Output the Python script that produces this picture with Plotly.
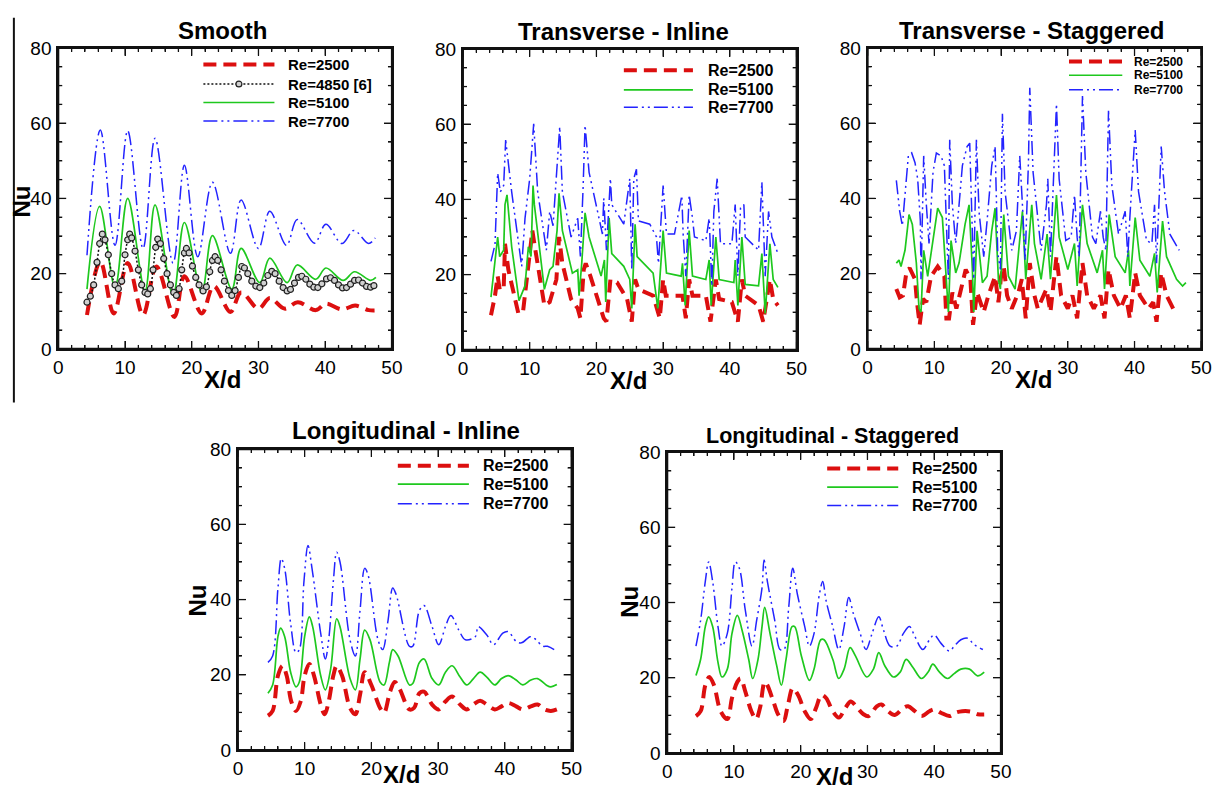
import plotly.graph_objects as go

W, H = 1231, 799

# ---------------- data ----------------
panel_titles = ["Smooth", "Transverse - Inline", "Transverse - Staggered",
                "Longitudinal - Inline", "Longitudinal - Staggered"]
x_range = [0, 50]
y_range = [0, 80]
x_major = [0, 10, 20, 30, 40, 50]
y_major = [0, 20, 40, 60, 80]
x_minor = [v for v in range(0, 51, 2) if v % 10]
y_minor = [v for v in range(0, 81, 5) if v % 20]

# Smooth
smooth_x_2500 = [4.3, 6.3, 8.3, 10.4, 12.7, 14.7, 17.4, 18.9, 21.5, 23.3, 25.8, 27.4, 30.0, 31.7, 33.9, 35.9, 38.6, 40.1, 42.5, 44.5, 46.5, 47.4]
smooth_nu_2500 = [9.0, 23.2, 9.4, 22.8, 9.0, 21.9, 8.5, 19.3, 9.4, 16.7, 9.8, 15.0, 10.7, 13.5, 10.7, 12.4, 10.3, 12.0, 10.5, 11.5, 10.3, 10.2]
smooth_x_4850 = [4.3, 4.8, 5.3, 5.8, 6.2, 6.6, 7.0, 7.5, 8.0, 8.5, 9.0, 9.5, 10.0, 10.4, 10.7, 11.0, 11.5, 12.0, 12.5, 13.0,
                 13.4, 13.8, 14.2, 14.6, 14.9, 15.3, 15.8, 16.3, 16.8, 17.3, 17.7, 18.1, 18.5, 18.9, 19.2, 19.6, 20.1, 20.6, 21.1, 21.7,
                 22.2, 22.7, 23.1, 23.5, 23.9, 24.4, 24.9, 25.5, 26.0, 26.5, 27.0, 27.5, 27.9, 28.4, 29.0, 29.6, 30.2, 30.8, 31.4, 32.0,
                 32.5, 33.1, 33.7, 34.3, 34.8, 35.4, 36.0, 36.5, 37.1, 37.7, 38.3, 38.9, 39.5, 40.2, 40.8, 41.4, 42.0, 42.6, 43.2, 43.8,
                 44.4, 45.0, 45.6, 46.2, 46.8, 47.3]
smooth_nu_4850 = [12.4, 14, 17, 23, 28, 30.5, 29, 25, 20, 17, 16, 18, 25, 29, 30.5, 29.5, 26, 21, 17, 15,
                  14.6, 16, 21, 27, 29.2, 28, 24, 20, 17, 15, 14.2, 16, 21, 25.5, 26.7, 25.5, 22, 19, 17, 15.4,
                  16.5, 20.5, 23.5, 24.5, 23.5, 21, 18, 15.5, 14.2, 15.5, 19, 21.9, 21.5, 20, 18, 16.7, 16.3, 17.5, 19.5, 20.6,
                  20, 18, 16.3, 15.4, 15.8, 17.5, 19, 19.3, 18.5, 17.2, 16.4, 16.3, 17.3, 18.6, 18.9, 18.2, 17, 16.2, 16.3, 17.2,
                  18.2, 18.3, 17.5, 16.6, 16.4, 16.8]
smooth_x_5100 = [4.3, 6.2, 8.5, 10.4, 13.0, 14.5, 17.2, 18.9, 21.5, 23.1, 26.0, 27.4, 30.2, 31.7, 34.3, 35.8, 38.6, 40.1, 42.7, 44.4, 46.8, 47.6]
smooth_nu_5100 = [15.9, 37.9, 16.3, 40.0, 15.4, 38.3, 14.2, 33.6, 15.0, 30.1, 15.9, 26.7, 17.6, 24.1, 17.6, 22.3, 18.5, 21.5, 18.2, 20.5, 18.2, 19.0]
smooth_x_7700 = [4.3, 6.3, 8.5, 10.4, 12.7, 14.5, 17.2, 18.9, 20.9, 23.1, 25.8, 27.4, 30.0, 31.7, 34.2, 35.8, 38.4, 40.1, 42.5, 44.3, 46.5, 47.5]
smooth_nu_7700 = [24.9, 58.2, 27.5, 58.0, 26.7, 56.0, 22.8, 48.8, 24.5, 44.3, 25.4, 39.6, 26.7, 36.6, 27.5, 34.4, 28.1, 33.1, 28.0, 31.5, 28.0, 29.5]

# Transverse - Inline
tin_x_2500 = [4.2, 4.8, 5.2, 5.5, 6.1, 6.3, 6.8, 7.5, 8.3, 9.0, 10.0, 10.4, 10.7, 12.2, 13.0, 14.0, 14.4, 14.9, 16.2, 17.2,
              17.6, 18.1, 18.4, 19.1, 21.1, 21.5, 22.1, 23.1, 24.6, 25.3, 25.8, 26.3, 28.5, 29.5, 30.0, 30.4, 32.9, 33.4, 33.9, 34.4,
              36.4, 37.1, 37.9, 38.4, 40.3, 41.2, 41.8, 42.3, 44.3, 45.0, 46.0, 46.5, 47.2]
tin_nu_2500 = [9.2, 14.4, 19.6, 16.1, 16.1, 28.2, 21.3, 15.3, 9.7, 10.1, 24.8, 31.7, 28.2, 11.8, 12.7, 18.7, 30, 23, 13.5, 11,
               8.4, 21.3, 23, 19.6, 8.4, 7.5, 18.7, 17.9, 13.5, 7.5, 18.7, 16.1, 14.4, 8.4, 18.7, 14.4, 14.4, 8.4, 18.7, 14.4,
               14.4, 7.5, 18.7, 13.5, 12.7, 7.5, 18.7, 14.4, 11.8, 7.5, 18.7, 13.5, 11.8]
tin_x_5100 = [4.2, 4.8, 5.2, 5.5, 6.1, 6.3, 6.6, 7.3, 8.4, 9.3, 9.8, 10.2, 10.5, 10.7, 12.2, 13.0, 13.5, 14.1, 14.4, 14.9,
              16.4, 17.2, 17.4, 17.8, 18.3, 18.9, 20.7, 21.2, 21.4, 21.9, 22.3, 24.1, 25.0, 25.3, 25.8, 26.1, 28.5, 29.2, 30.0, 30.5,
              32.7, 32.9, 33.3, 33.9, 34.4, 36.4, 36.9, 37.2, 37.9, 38.4, 40.6, 40.8, 41.2, 41.8, 42.3, 44.3, 44.8, 45.3, 46.0, 46.5, 47.2]
tin_nu_5100 = [14, 23, 30, 24.8, 26.5, 38.6, 41.2, 27.4, 13.1, 17, 27.4, 24.8, 43.7, 38.6, 16.1, 21.3, 22.2, 31.7, 41.6, 31.7,
               20.4, 21.3, 14.4, 23, 36.4, 30, 19.6, 23.9, 12.7, 35.1, 25.6, 22.2, 18.7, 11, 33.4, 24.8, 20.4, 11, 31.7, 20.4,
               19.6, 23, 11.8, 31.7, 19.6, 18.7, 23.9, 11.8, 30, 18.7, 17.9, 23.9, 11.8, 30, 17.4, 17, 25.6, 9.7, 28.2, 18.7, 16.6]
tin_x_7700 = [4.2, 4.8, 5.2, 5.6, 6.1, 6.4, 7.3, 8.8, 9.3, 10.0, 10.6, 11.2, 12.5, 13.0, 13.5, 14.1, 14.5, 14.9, 16.2, 17.2,
              17.6, 18.0, 18.3, 18.9, 20.9, 21.1, 21.5, 22.1, 22.3, 24.1, 25.0, 25.3, 25.6, 26.0, 26.3, 28.0, 29.0, 29.3, 30.0, 30.5,
              31.7, 32.8, 33.0, 33.4, 33.9, 34.4, 34.7, 36.4, 36.9, 37.3, 37.6, 38.1, 38.6, 40.3, 40.8, 41.2, 41.6, 42.1, 42.3, 44.3,
              44.8, 45.3, 45.8, 46.3, 47.2]
tin_nu_7700 = [23.5, 28, 47, 42, 43.7, 55.8, 42, 22.2, 35, 45.5, 60.1, 42, 26.5, 36.8, 33, 49.8, 59.3, 42, 30, 35,
               24.8, 42.9, 59.7, 47.2, 30.8, 40.3, 26.5, 45.5, 38.6, 33.4, 45.5, 21.3, 45.5, 48, 34.3, 33.4, 30, 23, 43.7, 30.8,
               30.8, 41, 30.8, 19.6, 41.2, 35, 30, 29, 35, 17, 36.8, 45.5, 28.2, 28.2, 38.6, 19.6, 37.7, 38.6, 30, 26.5,
               44.6, 19.6, 36.8, 30, 25.6]

# Transverse - Staggered
tst_x_2500 = [4.3, 4.8, 5.3, 5.8, 6.3, 7.1, 7.4, 7.8, 8.3, 8.8, 9.5, 10.5, 11.5, 11.8, 12.2, 12.7, 13.3, 14.0, 14.7, 15.4,
              15.8, 16.4, 17.4, 18.1, 19.1, 19.6, 20.0, 20.4, 20.9, 21.6, 22.6, 23.1, 23.7, 24.3, 25.0, 25.5, 26.8, 27.4, 28.3, 29.0,
              30.0, 30.7, 31.4, 32.2, 32.9, 33.9, 34.9, 35.5, 36.1, 36.9, 37.9, 38.7, 39.3, 40.1, 40.8, 42.1, 42.8, 43.3, 44.0, 44.8,
              45.8, 46.5]
tst_nu_2500 = [15.9, 13.7, 14.2, 20.2, 21.5, 18.5, 12.4, 6.4, 13.3, 12.4, 19.3, 21.9, 19.3, 8.1, 8.1, 15, 10.7, 15.9, 21.1, 18.5,
               6.4, 15, 9.8, 14.2, 19.3, 12.4, 19.3, 21.9, 14.2, 10.7, 15, 18.5, 8.1, 22.8, 14.2, 10.7, 15.9, 9.8, 24.5, 14.2,
               10.7, 14.2, 8.1, 22.8, 14.2, 10.7, 14.2, 8.1, 21.1, 14.2, 10.7, 14.2, 8.1, 20.2, 14.2, 10.7, 12.4, 7.2, 20.2, 14.2,
               10.7, 9.4]
tst_x_5100 = [4.3, 4.7, 5.0, 5.6, 6.2, 6.7, 7.3, 7.7, 8.0, 8.4, 9.0, 9.8, 10.5, 11.2, 11.7, 12.1, 12.5, 13.2, 13.7, 14.6,
              15.2, 15.7, 15.9, 16.4, 17.2, 17.9, 18.6, 19.1, 19.6, 19.9, 20.4, 21.1, 22.1, 22.8, 23.2, 23.7, 24.6, 25.0, 26.0, 26.9,
              27.4, 28.3, 28.7, 30.0, 31.0, 31.4, 32.2, 32.9, 34.4, 35.2, 35.5, 36.2, 37.1, 38.6, 39.1, 39.3, 40.1, 40.8, 42.3, 43.0,
              43.4, 44.2, 44.8, 46.3, 47.2, 47.7]
tst_nu_5100 = [22.8, 23.6, 21.9, 26.2, 35.7, 33.1, 22.8, 10.7, 9.8, 26.2, 19.3, 29.7, 37.4, 34.9, 19.3, 9.8, 28.8, 20.2, 22.8, 33.1,
               38.3, 21.1, 9.8, 31.4, 17.6, 19.3, 31.4, 37.4, 18.5, 15.9, 35.7, 19.3, 15.9, 29.7, 36.6, 18.5, 38.3, 28, 18.5, 30.5,
               18.5, 40.9, 29.7, 21.1, 28, 16.7, 38.3, 28, 20.2, 26.2, 15.9, 35.7, 24.5, 20.2, 26.2, 16.7, 34.9, 23.6, 19.3, 25.4,
               15, 34, 24.5, 18.5, 16.7, 17.6]
tst_x_7700 = [4.3, 4.8, 5.2, 5.6, 6.1, 6.6, 7.1, 7.5, 7.9, 8.0, 8.4, 8.8, 9.2, 9.8, 10.3, 11.0, 11.5, 12.1, 12.3, 12.7,
              13.2, 13.7, 14.2, 14.9, 15.3, 15.9, 16.3, 16.7, 17.4, 17.9, 18.6, 19.1, 19.5, 19.9, 20.2, 20.6, 21.6, 22.3, 22.8, 23.2,
              23.6, 24.1, 24.3, 24.8, 26.0, 26.8, 27.0, 27.4, 27.8, 28.3, 28.7, 29.7, 30.5, 31.0, 31.4, 31.7, 32.2, 32.7, 33.7, 34.2,
              34.9, 35.3, 35.7, 36.1, 36.6, 37.6, 38.6, 39.0, 39.3, 40.1, 40.6, 41.8, 42.6, 43.0, 43.3, 44.0, 44.5, 45.3, 46.7]
tst_nu_7700 = [44.8, 36.6, 32.7, 41.8, 51.3, 52.1, 49.5, 45.2, 34, 18.5, 51.3, 38.3, 28, 47, 52.1, 51.3, 48.7, 18.5, 55.6, 38.3,
               28, 38.3, 48.7, 53.8, 54.7, 18.5, 55.6, 36.4, 24.5, 34, 48.7, 53.8, 25.4, 21.1, 62.5, 41.8, 26.2, 31.4, 51.3, 38.3,
               23.6, 49.5, 69.4, 46.9, 26.2, 38.3, 45.2, 24.5, 41.8, 65.1, 45.2, 28.8, 29.7, 40.9, 29.7, 24.5, 67.2, 46.9, 29.7, 28,
               36.6, 29.7, 26.2, 63.3, 43.5, 30.5, 36.6, 24.5, 34.9, 58.2, 41.8, 28.8, 28, 38.3, 22.8, 53.8, 41.8, 30.5, 26.2]

# Longitudinal - Inline
lin_x_2500 = [4.5, 5.2, 6.0, 6.7, 7.3, 8.0, 8.7, 9.4, 10.0, 10.7, 11.4, 12.4, 13.0, 13.6, 14.3, 14.8, 15.6, 16.8, 17.6, 18.3,
              19.0, 20.0, 21.3, 21.9, 22.8, 23.5, 24.2, 25.7, 26.4, 27.2, 27.9, 29.1, 30.1, 31.1, 32.1, 33.3, 34.3, 35.3, 36.3, 37.3,
              38.5, 39.5, 40.5, 41.7, 42.7, 43.9, 44.9, 45.9, 46.9, 47.8]
lin_nu_2500 = [9.1, 10.4, 19.8, 22.4, 19.8, 12.9, 10.4, 12.9, 19.8, 22.9, 19.8, 12.1, 9.5, 12.9, 19.8, 22.4, 19.8, 11.2, 9.5, 14.7,
               20.7, 17.3, 11.2, 9.9, 15.5, 18.1, 16.4, 10.8, 11.2, 15.1, 15.5, 12.1, 10.8, 12.9, 14.2, 12.1, 10.8, 12.1, 13.1, 12.1,
               10.8, 11.6, 12.5, 11.6, 10.8, 11.6, 12.1, 10.8, 10.4, 10.8]
lin_x_5100 = [4.5, 5.2, 6.0, 6.4, 7.0, 7.9, 8.7, 9.2, 10.0, 10.7, 11.2, 12.4, 13.1, 13.9, 14.8, 15.3, 16.8, 17.6, 18.3, 19.0,
              19.8, 21.3, 21.9, 22.7, 23.2, 24.0, 25.7, 26.2, 27.2, 27.9, 29.1, 30.1, 31.1, 32.1, 33.3, 34.3, 35.3, 36.3, 37.3, 38.5,
              39.5, 40.5, 41.7, 42.7, 43.9, 44.9, 46.2, 46.9, 47.8]
lin_nu_5100 = [15.1, 17.3, 30.2, 32.4, 30.2, 20.7, 16.8, 18.1, 30.2, 35.4, 32.8, 19.8, 16, 21.6, 34.9, 32.8, 19, 16, 24.2, 31.9,
               29.3, 18.1, 17.3, 23.3, 26.7, 25, 17.3, 17.7, 23.3, 24.2, 19, 17.3, 20.7, 22.4, 19.4, 17.3, 19, 20.7, 19.4, 17.3,
               19, 19.8, 18.6, 17.3, 18.6, 19, 17.3, 16.8, 17.4]
lin_x_7700 = [4.5, 5.2, 6.0, 6.5, 7.0, 7.9, 8.7, 9.2, 9.9, 10.5, 11.1, 12.4, 13.1, 13.6, 14.3, 14.8, 15.3, 16.8, 17.6, 18.3,
              19.0, 19.5, 21.0, 21.7, 22.5, 23.2, 23.7, 25.7, 26.2, 27.2, 27.9, 29.1, 30.1, 31.1, 31.9, 33.1, 34.1, 35.6, 36.0, 37.3,
              38.3, 39.7, 40.5, 41.7, 42.5, 43.9, 44.7, 45.7, 46.4, 47.4]
lin_nu_7700 = [23.3, 25, 43.1, 50.9, 48.3, 33.6, 25.9, 26.7, 44.9, 54.4, 48.3, 31.1, 24.2, 29.3, 44.9, 52.6, 50, 29.3, 25, 37.1,
               48.3, 46.6, 29.3, 26.7, 34.5, 43.1, 41.4, 27.6, 27.6, 37.1, 38.4, 32.8, 28, 32.8, 35.8, 31.9, 29.3, 30.2, 32.8, 30.6,
               28, 31.1, 31.5, 28.9, 28.5, 30.2, 29.3, 27.6, 27.6, 26.7]

# Longitudinal - Staggered
lst_x_2500 = [4.3, 5.0, 5.7, 6.3, 7.0, 8.0, 9.0, 9.7, 10.5, 11.0, 11.7, 12.6, 13.3, 13.9, 14.6, 15.0, 15.9, 16.6, 17.4, 18.1,
              18.8, 19.6, 20.6, 21.5, 22.3, 23.1, 23.8, 24.8, 25.7, 26.7, 27.5, 28.3, 29.4, 30.2, 31.4, 32.1, 33.1, 34.1, 35.4, 36.1,
              37.1, 38.1, 39.3, 40.0, 41.0, 42.3, 43.2, 44.2, 45.5, 46.5, 47.5]
lst_nu_2500 = [9.8, 11.1, 18, 20.2, 18, 11.1, 9, 14.6, 18.9, 19.8, 16.3, 11.1, 9, 12, 18.9, 18, 13.7, 10.3, 8.5, 12.9,
               17.2, 15.4, 11.1, 9, 12, 15.4, 14.6, 11.1, 9.4, 12, 13.7, 12.4, 10.3, 9.8, 12.4, 12.9, 11.1, 10.1, 12, 12.4,
               11.1, 9.8, 11.1, 11.6, 10.7, 9.8, 10.7, 11.1, 11, 10.3, 10.2]
lst_x_5100 = [4.3, 5.0, 5.7, 6.2, 6.8, 7.6, 8.2, 9.0, 9.7, 10.5, 11.2, 12.2, 12.8, 13.6, 14.2, 14.6, 15.4, 16.4, 17.1, 17.8,
              18.7, 19.1, 20.1, 21.3, 22.0, 23.0, 23.5, 24.8, 25.7, 26.5, 27.4, 28.2, 29.9, 30.9, 31.7, 32.6, 33.9, 34.9, 35.8, 36.8,
              38.1, 39.1, 39.8, 40.8, 42.0, 43.0, 44.0, 45.3, 46.5, 47.5]
lst_nu_5100 = [20.6, 24.9, 33.6, 36.2, 33.6, 24.1, 20.2, 22.3, 31.8, 36.6, 32.7, 24.9, 19.8, 24.9, 33.6, 38.7, 31.8, 23.2, 18, 24.9,
               33.6, 33.6, 25.8, 19.3, 22.3, 30.1, 30.1, 24.9, 19.8, 22.3, 28, 25.8, 20.2, 22.3, 26.7, 23.2, 20.2, 21.5, 24.9, 22.8,
               19.8, 21.5, 23.6, 21.5, 19.8, 21.1, 22.3, 22.3, 20.5, 21.5]
lst_x_7700 = [4.3, 5.0, 5.7, 6.2, 6.8, 7.6, 8.2, 9.0, 9.7, 10.2, 10.8, 11.7, 12.7, 13.4, 14.2, 14.5, 15.0, 16.1, 16.9, 17.5,
              18.2, 18.8, 19.5, 20.6, 21.3, 22.0, 22.8, 23.3, 23.8, 24.8, 25.7, 26.5, 27.2, 27.9, 28.9, 29.8, 30.7, 31.7, 32.4, 33.4,
              34.4, 35.4, 36.3, 37.1, 38.3, 39.3, 40.0, 41.0, 42.3, 43.0, 44.0, 45.0, 46.0, 47.3]
lst_nu_7700 = [28.4, 35.3, 45.6, 50.8, 45.6, 33.6, 28.4, 31.8, 43.9, 50.8, 49.1, 37.9, 28.4, 35.3, 43.9, 51.3, 45.6, 35.3, 27.5, 27.5,
               38.7, 49.1, 42.2, 33.6, 28.4, 31.8, 42.2, 45.6, 40.5, 33.6, 27.5, 33.6, 41.3, 37, 31.8, 27.5, 31.8, 36.2, 32.7, 28.4,
               28.4, 31.8, 33.6, 31, 27.5, 30.1, 31.4, 29.2, 27.1, 28.4, 30.1, 30.5, 28.8, 27.5]

# ---------------- layout helpers ----------------
def fx(p):
    return p / W


def fy(p):
    return 1 - p / H


FONT = "Liberation Sans, Arial, sans-serif"
AXC = "#111111"

STYLE = {
    "Re=2500": dict(color="#dc0f0f", width=4, dash="13px,7px"),
    "Re=4850 [6]": dict(color="#111111", width=1.5, dash="2px,2px"),
    "Re=5100": dict(color="#1ec81e", width=1.7, dash="solid"),
    "Re=7700": dict(color="#2323ff", width=1.5, dash="14px,4px,2px,4px,2px,4px"),
}

# pixel boxes of plot areas: (left, top, right, bottom)
boxes = [(54, 39, 392, 348), (464, 40, 802, 349), (874, 39, 1212, 348),
         (236, 451, 574, 760), (671, 454, 1009, 763)]

panels = [
    dict(series=[("Re=2500", smooth_x_2500, smooth_nu_2500), ("Re=5100", smooth_x_5100, smooth_nu_5100),
                 ("Re=7700", smooth_x_7700, smooth_nu_7700), ("Re=4850 [6]", smooth_x_4850, smooth_nu_4850)],
         shape="spline", legend=["Re=2500", "Re=4850 [6]", "Re=5100", "Re=7700"],
         leg=dict(x0=201, x1=273, tx=285, rows=[56, 76, 95, 114], fs=15),
         title_xy=(220, 21), title_fs=24, xd=(220, 379), nu=(17, 197)),
    dict(series=[("Re=2500", tin_x_2500, tin_nu_2500), ("Re=5100", tin_x_5100, tin_nu_5100),
                 ("Re=7700", tin_x_7700, tin_nu_7700)],
         shape="linear", legend=["Re=2500", "Re=5100", "Re=7700"],
         leg=dict(x0=627, x1=697, tx=710, rows=[62, 82, 100], fs=16),
         title_xy=(627, 22), title_fs=24, xd=(632, 380), nu=None),
    dict(series=[("Re=2500", tst_x_2500, tst_nu_2500), ("Re=5100", tst_x_5100, tst_nu_5100),
                 ("Re=7700", tst_x_7700, tst_nu_7700)],
         shape="linear", legend=["Re=2500", "Re=5100", "Re=7700"],
         leg=dict(x0=1078, x1=1132, tx=1142, rows=[53, 67, 82], fs=12),
         title_xy=(1040, 21), title_fs=24, xd=(1042, 379), nu=None),
    dict(series=[("Re=2500", lin_x_2500, lin_nu_2500), ("Re=5100", lin_x_5100, lin_nu_5100),
                 ("Re=7700", lin_x_7700, lin_nu_7700)],
         shape="spline", legend=["Re=2500", "Re=5100", "Re=7700"],
         leg=dict(x0=398, x1=470, tx=482, rows=[468, 487, 507], fs=16),
         title_xy=(406, 432), title_fs=24, xd=(402, 785), nu=(195, 606)),
    dict(series=[("Re=2500", lst_x_2500, lst_nu_2500), ("Re=5100", lst_x_5100, lst_nu_5100),
                 ("Re=7700", lst_x_7700, lst_nu_7700)],
         shape="spline", legend=["Re=2500", "Re=5100", "Re=7700"],
         leg=dict(x0=833, x1=905, tx=917, rows=[471, 490, 509], fs=16),
         title_xy=(838, 437), title_fs=21.5, xd=(840, 787), nu=(632, 608)),
]

fig = go.Figure()
shapes = []
annotations = []
layout_axes = {}

# frame + tick segments (page pixels) collected into a full-page overlay subplot
frame_x, frame_y = [], []
tick_x, tick_y = [], []


def seg(xs, ys, x0, y0, x1, y1):
    xs.extend([x0, x1, None])
    ys.extend([y0, y1, None])


for i, (p, box) in enumerate(zip(panels, boxes), start=1):
    sfx = "" if i == 1 else str(i)
    xa, ya = "x" + sfx, "y" + sfx
    for key, xs, ys in p["series"]:
        st = STYLE[key]
        kw = dict(x=xs, y=ys, xaxis=xa, yaxis=ya, name=key, showlegend=False,
                  line=dict(color=st["color"], width=st["width"], dash=st["dash"], shape=p["shape"]))
        if key == "Re=4850 [6]":
            kw["mode"] = "lines+markers"
            kw["marker"] = dict(symbol="circle", size=6, color="#d0d0d0",
                                line=dict(color="#222222", width=1.2))
        else:
            kw["mode"] = "lines"
        fig.add_trace(go.Scatter(**kw))

    l, t, r, b = box
    pw, ph = r - l, b - t
    layout_axes["xaxis" + sfx] = dict(
        domain=[fx(l), fx(r)], anchor=ya, range=x_range,
        showline=True, linecolor=AXC, linewidth=2, mirror="allticks",
        ticks="inside", ticklen=8, tickwidth=1.3, tickcolor=AXC,
        tickmode="array", tickvals=x_major,
        minor=dict(tickmode="array", tickvals=x_minor, ticks="inside", ticklen=4,
                   tickcolor=AXC, tickwidth=1.2),
        showgrid=False, zeroline=False,
        tickfont=dict(family=FONT, size=19, color="black"))
    layout_axes["yaxis" + sfx] = dict(
        domain=[fy(b), fy(t)], anchor=xa, range=y_range,
        showline=True, linecolor=AXC, linewidth=2, mirror="allticks",
        ticks="inside", ticklen=8, tickwidth=1.3, tickcolor=AXC,
        tickmode="array", tickvals=y_major,
        minor=dict(tickmode="array", tickvals=y_minor, ticks="inside", ticklen=4,
                   tickcolor=AXC, tickwidth=1.2),
        showgrid=False, zeroline=False, ticklabelstandoff=1,
        tickfont=dict(family=FONT, size=19, color="black"))

    # frame with inside ticks on all four sides (overlay copy)
    for (x0, y0, x1, y1) in ((l, b, r, b), (r, b, r, t), (r, t, l, t), (l, t, l, b)):
        seg(frame_x, frame_y, x0, y0, x1, y1)
    for vals, ln in ((x_major, 8), (x_minor, 4)):
        for v in vals:
            xp = l + (v - x_range[0]) / (x_range[1] - x_range[0]) * pw
            seg(tick_x, tick_y, xp, b, xp, b - ln)
            seg(tick_x, tick_y, xp, t, xp, t + ln)
    for vals, ln in ((y_major, 8), (y_minor, 4)):
        for v in vals:
            yp = b - (v - y_range[0]) / (y_range[1] - y_range[0]) * ph
            seg(tick_x, tick_y, l, yp, l + ln, yp)
            seg(tick_x, tick_y, r, yp, r - ln, yp)

    # title
    tx, ty = p["title_xy"]
    annotations.append(dict(text="<b>%s</b>" % panel_titles[i - 1], x=fx(tx), y=fy(ty),
                            xref="paper", yref="paper", xanchor="center", yanchor="middle",
                            showarrow=False, font=dict(family=FONT, size=p["title_fs"], color="black")))
    # axis titles
    ax_, ay_ = p["xd"]
    annotations.append(dict(text="<b>X/d</b>", x=fx(ax_), y=fy(ay_), xref="paper", yref="paper",
                            xanchor="center", yanchor="middle", showarrow=False,
                            font=dict(family=FONT, size=24, color="black")))
    if p["nu"]:
        nx, ny = p["nu"]
        annotations.append(dict(text="<b>Nu</b>", x=fx(nx), y=fy(ny), xref="paper", yref="paper",
                                xanchor="center", yanchor="middle", showarrow=False, textangle=-90,
                                font=dict(family=FONT, size=24, color="black")))
    # legend (drawn)
    lg = p["leg"]
    for key, row in zip(p["legend"], lg["rows"]):
        st = STYLE[key]
        shapes.append(dict(type="line", xref="paper", yref="paper",
                           x0=fx(lg["x0"]), x1=fx(lg["x1"]), y0=fy(row), y1=fy(row),
                           line=dict(color=st["color"], width=st["width"], dash=st["dash"])))
        if key == "Re=4850 [6]":
            cx = (lg["x0"] + lg["x1"]) / 2
            shapes.append(dict(type="circle", xref="paper", yref="paper",
                               x0=fx(cx - 3), x1=fx(cx + 3), y0=fy(row + 3), y1=fy(row - 3),
                               fillcolor="#d0d0d0", line=dict(color="#222222", width=1.2)))
        annotations.append(dict(text="<b>%s</b>" % key, x=fx(lg["tx"]), y=fy(row), xref="paper", yref="paper",
                                xanchor="left", yanchor="middle", showarrow=False,
                                font=dict(family=FONT, size=lg["fs"], color="black")))

# left vertical rule of the page
seg(frame_x, frame_y, 9, 8, 9, 403)

# overlay subplot covering the whole page in pixel units (y downwards)
fig.add_trace(go.Scatter(x=frame_x, y=frame_y, xaxis="x6", yaxis="y6", mode="lines",
                         line=dict(color=AXC, width=2), hoverinfo="skip", showlegend=False,
                         connectgaps=False))
fig.add_trace(go.Scatter(x=tick_x, y=tick_y, xaxis="x6", yaxis="y6", mode="lines",
                         line=dict(color=AXC, width=1.3), hoverinfo="skip", showlegend=False,
                         connectgaps=False))
layout_axes["xaxis6"] = dict(domain=[0, 1], range=[0, W], anchor="y6", visible=False,
                             showgrid=False, zeroline=False)
layout_axes["yaxis6"] = dict(domain=[0, 1], range=[H, 0], anchor="x6", visible=False,
                             showgrid=False, zeroline=False)

fig.update_layout(width=W, height=H, margin=dict(l=0, r=0, t=0, b=0), autosize=False,
                  plot_bgcolor="rgba(0,0,0,0)", paper_bgcolor="white", showlegend=False,
                  shapes=shapes, annotations=annotations, **layout_axes)

fig.write_html("out.html")
